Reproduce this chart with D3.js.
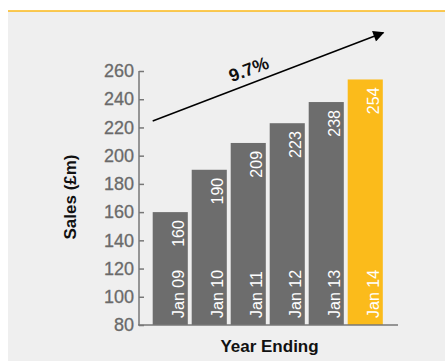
<!DOCTYPE html>
<html><head><meta charset="utf-8">
<script src="https://cdn.jsdelivr.net/npm/d3@7"></script>
<style>body{margin:0;background:#fff}svg{display:block}text{font-family:"Liberation Sans",Arial,Helvetica,sans-serif}</style>
</head><body>
<script>
const categories = ["Jan 09","Jan 10","Jan 11","Jan 12","Jan 13","Jan 14"];
const sales = [160,190,209,223,238,254];
const highlight = [false,false,false,false,false,true];
const yTicks = [80,100,120,140,160,180,200,220,240,260];
const growthLabel = "9.7%";
const yTitle = "Sales (£m)";
const xTitle = "Year Ending";

const W = 445, H = 361;
const svg = d3.select("body").append("svg").attr("width", W).attr("height", H);

svg.append("rect").attr("x", 8).attr("y", 11).attr("width", W - 8).attr("height", H - 11).attr("fill", "#efefef");
svg.append("line").attr("x1", 8).attr("x2", W).attr("y1", 11).attr("y2", 11).attr("stroke", "#fbb919").attr("stroke-width", 1.5);

const y = d3.scaleLinear().domain([80, 260]).range([325, 71]);
const x = d3.scaleBand().domain(categories).range([148.8, 386.7]).paddingInner(0.1).paddingOuter(0.1);

const grey = "#6d6d6d", yellow = "#fbbb1b";

// bars
svg.selectAll("rect.bar").data(categories).join("rect").attr("class", "bar")
  .attr("x", d => x(d)).attr("width", x.bandwidth())
  .attr("y", (d, i) => y(sales[i])).attr("height", (d, i) => y(80) - y(sales[i]))
  .attr("fill", (d, i) => highlight[i] ? yellow : grey);

// y axis
const yAxis = d3.axisLeft(y).tickValues(yTicks).tickSize(-5).tickPadding(5);
const gy = svg.append("g").attr("transform", "translate(139,0)").call(yAxis);
gy.select(".domain").remove();
gy.append("line").attr("x1", 0).attr("x2", 0).attr("y1", y(260)).attr("y2", y(80)).attr("stroke", "#777").attr("stroke-width", 1.5);
gy.selectAll(".tick line").attr("stroke", "#777").attr("stroke-width", 1.5);
gy.selectAll(".tick text").attr("fill", "#6a6a6a").attr("font-size", 18)
  .attr("stroke", "#6a6a6a").attr("stroke-width", 0.3)
  .attr("font-family", "'Liberation Sans',Arial,sans-serif");

// x axis baseline
svg.append("line").attr("x1", 138).attr("x2", 398).attr("y1", y(80)).attr("y2", y(80)).attr("stroke", "#777").attr("stroke-width", 1.5);

// value labels
svg.selectAll("text.val").data(categories).join("text").attr("class", "val")
  .attr("transform", (d, i) => `translate(${x(d) + x.bandwidth() - 4},${y(sales[i]) + 8}) rotate(-90)`)
  .attr("text-anchor", "end").attr("fill", "#fff").attr("font-size", 16)
  .text((d, i) => sales[i]);

// category labels
svg.selectAll("text.cat").data(categories).join("text").attr("class", "cat")
  .attr("transform", d => `translate(${x(d) + x.bandwidth() - 4},${y(80) - 7}) rotate(-90)`)
  .attr("text-anchor", "start").attr("fill", "#fff").attr("font-size", 16)
  .text(d => d);

// axis titles
svg.append("text").attr("transform", "translate(76,197) rotate(-90)").attr("text-anchor", "middle")
  .attr("font-size", 17).attr("font-weight", "bold").attr("fill", "#111").text(yTitle);
svg.append("text").attr("x", 269.5).attr("y", 352).attr("text-anchor", "middle")
  .attr("font-size", 17).attr("font-weight", "bold").attr("fill", "#111").text(xTitle);

// growth arrow
svg.append("defs").append("marker").attr("id", "ah").attr("viewBox", "0 0 10 10")
  .attr("refX", 9).attr("refY", 5).attr("markerWidth", 14).attr("markerHeight", 11)
  .attr("markerUnits", "userSpaceOnUse").attr("orient", "auto")
  .append("path").attr("d", "M0,0 L10,5 L0,10 Z").attr("fill", "#000");
const x0 = 152.7, y0 = 121, x1 = 383.3, y1 = 32.7;
svg.append("line").attr("x1", x0).attr("y1", y0).attr("x2", x1).attr("y2", y1)
  .attr("stroke", "#000").attr("stroke-width", 1.5).attr("marker-end", "url(#ah)");
const ang = Math.atan2(y1 - y0, x1 - x0) * 180 / Math.PI;
svg.append("text").attr("transform", `translate(251,75) rotate(${ang})`).attr("text-anchor", "middle")
  .attr("font-size", 18).attr("font-weight", "bold").attr("fill", "#111").text(growthLabel);
</script>
</body></html>
